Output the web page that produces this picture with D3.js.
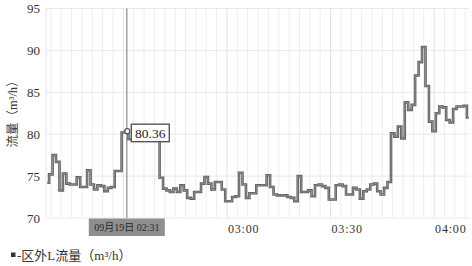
<!DOCTYPE html>
<html>
<head>
<meta charset="utf-8">
<script src="https://cdn.jsdelivr.net/npm/d3@7/dist/d3.min.js"></script>
<style>
  body { margin: 0; background: #fff; }
  text { font-family: "Liberation Serif", "Noto Sans CJK SC", serif; fill: #333; }
</style>
</head>
<body>
<svg id="chart" width="472" height="266"></svg>
<script>
// --- data ----------------------------------------------
// one reading per minute, first one at 02:08
const firstReading = [2, 8];
const flow = [
  74.2, 75.2, 77.5, 76.7, 73.3, 75.3, 74.1, 74.0, 74.0, 74.85,
  73.7, 73.7, 75.7, 74.0, 73.4, 73.9, 73.8, 73.2, 73.6, 73.7,
  75.6, 75.6, 80.2, 80.36, 79.4, 79.4, 79.4, 79.4, 79.4, 79.4,
  79.4, 79.4, 79.4, 74.8, 73.5, 73.3, 73.1, 73.5, 73.1, 73.9,
  73.3, 72.4, 72.3, 73.1, 73.1, 74.1, 74.9, 74.1, 73.4, 74.3,
  74.3, 73.4, 72.0, 72.0, 72.5, 72.6, 75.4, 74.0, 72.4, 72.95,
  72.95, 73.9, 73.9, 73.9, 75.1, 73.7, 72.8, 72.7, 72.7, 72.7,
  72.5, 72.4, 72.0, 75.0, 73.1, 73.1, 73.3, 72.6, 73.9, 74.0,
  73.8, 73.6, 72.2, 72.2, 73.9, 74.0, 73.8, 72.8, 72.8, 73.6,
  73.4, 72.3, 73.2, 73.4, 74.0, 74.1, 73.2, 72.8, 73.6, 74.3,
  80.1, 79.7, 80.9, 79.5, 83.8, 82.9, 83.5, 87.0, 88.6, 90.4,
  85.75, 81.5, 80.35, 82.5, 83.3, 83.2, 81.7, 81.4, 83.0, 83.3,
  83.3, 83.4, 82.0
];
const yTicks = [70, 75, 80, 85, 90, 95];
const xTickLabels = ["03:00", "03:30", "04:00"];
const hoverTime = [2, 31];
const hoverValue = 80.36;
const hoverLabel = "09月19日 02:31";
const yTitle = "流量（m³/h）";
const seriesName = "-区外L流量（m³/h）";

function at(h, m, s) { return new Date(2000, 8, 19, h, m, s || 0); }

const data = flow.map((v, i) => ({ t: at(firstReading[0], firstReading[1] + i), v: v }));

const svg = d3.select("#chart");
const plot = {left: 46, right: 469, top: 8.5, bottom: 218};

const x = d3.scaleTime()
  .domain([at(2, 7, 36), at(4, 10, 6)])
  .range([plot.left, plot.right]);

const y = d3.scaleLinear()
  .domain([70, 95])
  .range([plot.bottom, plot.top]);

// --- grid ---------------------------------------
const grid = svg.append("g");
grid.selectAll("line.v")
  .data(x.ticks(d3.timeMinute.every(3)))
  .enter().append("line")
  .attr("x1", d => x(d)).attr("x2", d => x(d))
  .attr("y1", plot.top).attr("y2", plot.bottom)
  .attr("stroke", d => d.getMinutes() % 30 === 0 ? "#e2e2e2" : "#ededed")
  .attr("stroke-width", 1);

grid.append("line")
  .attr("x1", plot.left).attr("x2", plot.left)
  .attr("y1", plot.top).attr("y2", plot.bottom)
  .attr("stroke", "#e6e6e6");

grid.selectAll("line.h")
  .data(yTicks)
  .enter().append("line")
  .attr("x1", plot.left).attr("x2", plot.right)
  .attr("y1", d => y(d)).attr("y2", d => y(d))
  .attr("stroke", "#e8e8e8");

// --- axes labels -----------------------------------
svg.selectAll("text.ytick")
  .data(yTicks)
  .enter().append("text")
  .attr("x", 40)
  .attr("y", d => y(d) + 4.5)
  .attr("text-anchor", "end")
  .style("font-size", "13px")
  .text(d => d);

svg.selectAll("text.xtick")
  .data(xTickLabels)
  .enter().append("text")
  .attr("x", d => { const [h, m] = d.split(":").map(Number); return x(at(h, m)) + 1; })
  .attr("y", 233)
  .style("font-size", "12px")
  .style("letter-spacing", "0.8px")
  .text(d => d);

svg.append("text")
  .attr("transform", "translate(17,111)rotate(-90)")
  .attr("text-anchor", "middle")
  .style("font-size", "12.5px")
  .text(yTitle);

// --- crosshair ------------------------------------
const hx = x(at(hoverTime[0], hoverTime[1]));
svg.append("line")
  .attr("x1", hx).attr("x2", hx)
  .attr("y1", plot.top).attr("y2", plot.bottom)
  .attr("stroke", "#9a9a9a")
  .attr("stroke-width", 1.4);

// --- the series -------------------------------------
// mostly flat runs with sharp jumps, so a step curve
const line = d3.line()
  .curve(d3.curveStep)
  .x(d => x(d.t))
  .y(d => y(d.v));

svg.append("path")
  .datum(data)
  .attr("d", line)
  .attr("fill", "none")
  .attr("stroke", "#606060")
  .attr("stroke-width", 2.6);

svg.append("path")
  .datum(data)
  .attr("d", line)
  .attr("fill", "none")
  .attr("stroke", "#929292")
  .attr("stroke-width", 0.9);

// --- value tooltip ----------------------------------
const hy = y(hoverValue);
svg.append("circle")
  .attr("cx", hx + 0.5).attr("cy", hy)
  .attr("r", 2.5)
  .attr("fill", "#fff")
  .attr("stroke", "#555")
  .attr("stroke-width", 1.2);

svg.append("rect")
  .attr("x", hx + 4.5).attr("y", hy - 7)
  .attr("width", 38).attr("height", 17.5)
  .attr("fill", "#fff")
  .attr("stroke", "#555")
  .attr("stroke-width", 1.4);

svg.append("text")
  .attr("x", hx + 23.5).attr("y", hy + 6.5)
  .attr("text-anchor", "middle")
  .style("font-size", "13.5px")
  .style("fill", "#222")
  .text(hoverValue.toFixed(2));

// --- time label on the x axis ---------------------------
svg.append("rect")
  .attr("x", hx - 38).attr("y", 218.5)
  .attr("width", 76).attr("height", 17.5)
  .attr("fill", "#8f8f8f");

svg.append("text")
  .attr("x", hx).attr("y", 231)
  .attr("text-anchor", "middle")
  .style("font-size", "10px")
  .style("fill", "#2a2a2a")
  .text(hoverLabel);

// --- legend ----------------------------------------
svg.append("rect")
  .attr("x", 11).attr("y", 252.5)
  .attr("width", 4.5).attr("height", 4.5)
  .attr("fill", "#333");

svg.append("text")
  .attr("x", 17).attr("y", 259.5)
  .style("font-size", "13px")
  .text(seriesName);
</script>
</body>
</html>
